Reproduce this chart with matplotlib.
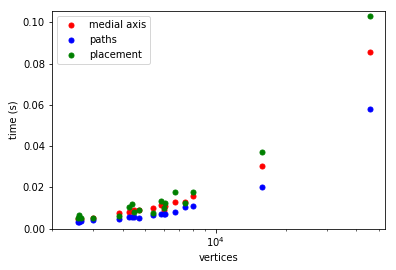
import matplotlib
matplotlib.use('Agg')
import matplotlib.pyplot as plt

# vertex counts per test file
vertices = [2564, 2608, 2661, 2976, 3848, 4278, 4378, 4467, 4691, 5393,
            5834, 6030, 6096, 6683, 7379, 8013, 15770, 45800]

# timings in seconds
medial_axis = [0.0045, 0.0057, 0.0047, 0.0052, 0.0076, 0.0082, 0.0088, 0.0091, 0.0089, 0.0099,
               0.0115, 0.0093, 0.0108, 0.0128, 0.0131, 0.0157, 0.0302, 0.0854]
paths = [0.0032, 0.0031, 0.0037, 0.0042, 0.0048, 0.0055, 0.0055, 0.0055, 0.0053, 0.0065,
         0.0070, 0.0071, 0.0072, 0.0081, 0.0104, 0.0110, 0.0202, 0.0578]
placement = [0.0050, 0.0065, 0.0052, 0.0053, 0.0063, 0.0107, 0.0120, 0.0079, 0.0092, 0.0075,
             0.0136, 0.0099, 0.0123, 0.0176, 0.0123, 0.0176, 0.0370, 0.1033]

fig = plt.figure(figsize=(5.5, 3.75), dpi=72)
ax = fig.add_axes([0.131, 0.153, 0.841, 0.807])

ax.scatter(vertices, medial_axis, s=25, color='red', label='medial axis')
ax.scatter(vertices, paths, s=25, color='blue', label='paths')
ax.scatter(vertices, placement, s=25, color='green', label='placement')

ax.set_xscale('log')
ax.set_xlim(1991, 53100)
ax.set_ylim(0, 0.1056)
ax.set_xlabel('vertices')
ax.set_ylabel('time (s)')
ax.legend(loc='upper left')

fig.savefig('out.png', dpi=72)
